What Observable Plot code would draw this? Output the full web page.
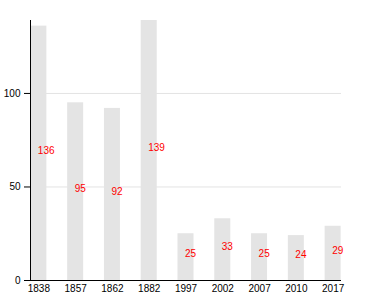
<!DOCTYPE html>
<html>
<head>
<meta charset="utf-8">
<script src="https://cdn.jsdelivr.net/npm/d3@7"></script>
<script src="https://cdn.jsdelivr.net/npm/@observablehq/plot@0.6"></script>
<style>
  html, body { margin: 0; padding: 0; background: #fff; }
  #chart { width: 380px; height: 300px; }
</style>
</head>
<body>
<div id="chart"></div>
<script>
const years = ["1838", "1857", "1862", "1882", "1997", "2002", "2007", "2010", "2017"];
const values = [136, 95, 92, 139, 25, 33, 25, 24, 29];
const yTicks = [0, 50, 100];

const data = years.map((year, i) => ({year, value: values[i]}));

const chart = Plot.plot({
  width: 380,
  height: 300,
  marginLeft: 30,
  marginRight: 39,
  marginTop: 20,
  marginBottom: 20,
  style: {fontFamily: "'Liberation Sans', Arial, Helvetica, sans-serif", fontSize: "10px", background: "#fff", color: "#000"},
  x: {domain: years, paddingInner: 0.565, paddingOuter: 0.01, round: false, label: null},
  y: {domain: [0, 139], label: null},
  marks: [
    Plot.gridY(yTicks, {stroke: "#e3e3e3", strokeOpacity: 1}),
    Plot.barY(data, {x: "year", y: "value", fill: "#e4e4e4"}),
    Plot.text(data, {x: "year", y: d => d.value / 2, text: d => String(d.value), fill: "red", textAnchor: "start", dx: -1, dy: -3, fontSize: 10}),
    Plot.axisY(yTicks, {tickSize: 6, tickPadding: 4, label: null, strokeOpacity: 1}),
    Plot.axisX({tickSize: 0, tickPadding: 4, label: null}),
    Plot.frame({anchor: "left", stroke: "#000"}),
    Plot.ruleY([0], {stroke: "#000"})
  ]
});
document.getElementById("chart").appendChild(chart);
</script>
</body>
</html>
